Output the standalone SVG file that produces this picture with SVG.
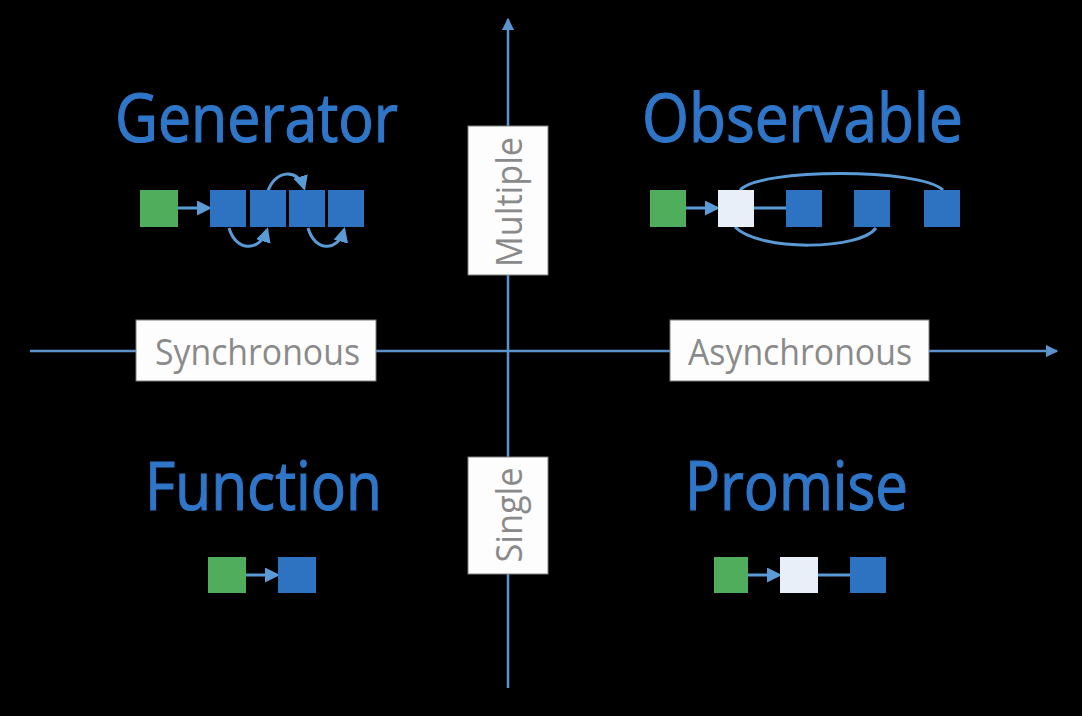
<svg xmlns="http://www.w3.org/2000/svg" width="1082" height="716" viewBox="0 0 1082 716">
<defs>
<style>
.title{font-family:"Open Sans","Noto Sans",sans-serif;font-size:68px;fill:#2f76c8;stroke:#2f76c8;stroke-width:1.2px;}
.lbl{font-family:"Open Sans","Noto Sans",sans-serif;font-size:36px;fill:#8a8a8a;}
.lblbox{fill:#fdfdfd;stroke:#7f7f7f;stroke-width:1;}
.g{fill:#4fad5b;}
.b{fill:#2e72c2;}
.w{fill:#e9eff8;}
.axis{stroke:#5b93cf;stroke-width:2.5;fill:none;}
.link{stroke:#5b9bd5;stroke-width:3;fill:none;}
</style>
<marker id="ah" viewBox="0 0 10 10" refX="8" refY="5" markerWidth="5" markerHeight="5" orient="auto" markerUnits="strokeWidth">
<path d="M0,0 L10,5 L0,10 z" fill="#5b9bd5"/>
</marker>
<marker id="axah" viewBox="0 0 10 10" refX="9" refY="5" markerWidth="5" markerHeight="5" orient="auto" markerUnits="strokeWidth">
<path d="M0,0 L10,5 L0,10 z" fill="#5b93cf"/>
</marker>
</defs>
<rect width="1082" height="716" fill="#000000"/>
<g id="connectors">
<line class="axis" x1="30" y1="351" x2="1057" y2="351" marker-end="url(#axah)"/>
<line class="axis" x1="508" y1="688" x2="508" y2="19" marker-end="url(#axah)"/>
<line class="link" x1="178" y1="208" x2="209" y2="208" marker-end="url(#ah)"/>
<path class="link" d="M268,191 C275,170 298,168 304,188" marker-end="url(#ah)"/>
<path class="link" d="M229,228 C236,252 260,252 267,230" marker-end="url(#ah)"/>
<path class="link" d="M308,228 C315,252 338,252 344,230" marker-end="url(#ah)"/>
<line class="link" x1="686" y1="208" x2="717" y2="208" marker-end="url(#ah)"/>
<line class="link" x1="754" y1="208" x2="786" y2="208"/>
<path class="link" d="M735,227 C760,252 860,250 876,228"/>
<path class="link" d="M740,190 C760,168 920,168 943,190"/>
<line class="link" x1="246" y1="575" x2="277" y2="575" marker-end="url(#ah)"/>
<line class="link" x1="748" y1="575" x2="779" y2="575" marker-end="url(#ah)"/>
<line class="link" x1="818" y1="575" x2="850" y2="575"/>
</g>
<g id="generator">
<text class="title" x="115" y="142" textLength="283" lengthAdjust="spacingAndGlyphs">Generator</text>
<rect class="g" x="140" y="190" width="38" height="37"/>
<rect class="b" x="210" y="190" width="36" height="37"/>
<rect class="b" x="250" y="190" width="36" height="37"/>
<rect class="b" x="289" y="190" width="36" height="37"/>
<rect class="b" x="328" y="190" width="36" height="37"/>
</g>
<g id="observable">
<text class="title" x="642" y="142" textLength="321" lengthAdjust="spacingAndGlyphs">Observable</text>
<rect class="g" x="650" y="190" width="36" height="37"/>
<rect class="w" x="718" y="190" width="36" height="37"/>
<rect class="b" x="786" y="190" width="36" height="37"/>
<rect class="b" x="854" y="190" width="36" height="37"/>
<rect class="b" x="924" y="190" width="36" height="37"/>
</g>
<g id="function">
<text class="title" x="145" y="510" textLength="237" lengthAdjust="spacingAndGlyphs">Function</text>
<rect class="g" x="208" y="557" width="38" height="36"/>
<rect class="b" x="278" y="557" width="38" height="36"/>
</g>
<g id="promise">
<text class="title" x="685" y="510" textLength="223" lengthAdjust="spacingAndGlyphs">Promise</text>
<rect class="g" x="714" y="557" width="34" height="36"/>
<rect class="w" x="780" y="557" width="38" height="36"/>
<rect class="b" x="850" y="557" width="36" height="36"/>
</g>
<g id="label-multiple">
<rect class="lblbox" x="468" y="126" width="80" height="149"/>
<text class="lbl" transform="translate(522,202) rotate(-90)" text-anchor="middle" textLength="130" lengthAdjust="spacingAndGlyphs">Multiple</text>
</g>
<g id="label-single">
<rect class="lblbox" x="468" y="457" width="80" height="117"/>
<text class="lbl" transform="translate(522,515) rotate(-90)" text-anchor="middle" textLength="95" lengthAdjust="spacingAndGlyphs">Single</text>
</g>
<g id="label-synchronous">
<rect class="lblbox" x="136" y="320" width="240" height="61"/>
<text class="lbl" x="155" y="365" textLength="205" lengthAdjust="spacingAndGlyphs">Synchronous</text>
</g>
<g id="label-asynchronous">
<rect class="lblbox" x="670" y="320" width="259" height="61"/>
<text class="lbl" x="688" y="365" textLength="224" lengthAdjust="spacingAndGlyphs">Asynchronous</text>
</g>
</svg>
